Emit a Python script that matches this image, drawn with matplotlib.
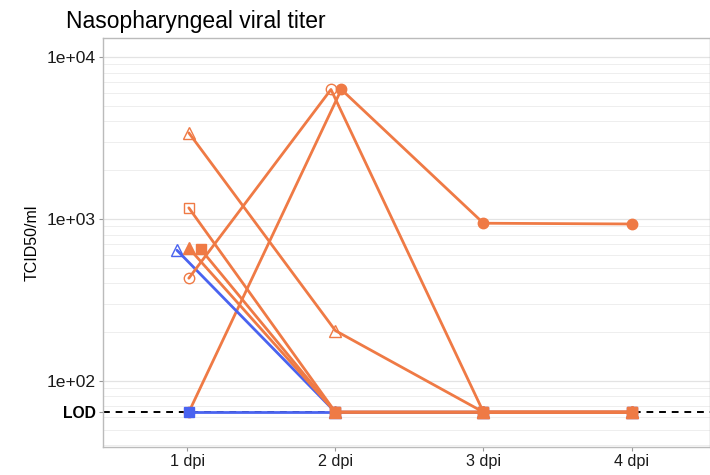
import matplotlib
matplotlib.use("Agg")
import matplotlib.pyplot as plt
import numpy as np
from matplotlib.ticker import FixedLocator, NullFormatter

plt.rcParams['font.family'] = ['Liberation Sans', 'DejaVu Sans']

LOD = 64
days = [1, 2, 3, 4]
day_labels = ["1 dpi", "2 dpi", "3 dpi", "4 dpi"]

# orange group
o_open_tri = [3400, 204, LOD, LOD]
o_open_sq = [1170, LOD, LOD, LOD]
o_open_circ = [430, 6300, LOD, LOD]
o_fill_circ = [LOD, 6300, 940, 930]
o_fill_tri = [660, LOD, LOD, LOD]
o_fill_sq = [650, LOD, LOD, LOD]
# blue group
b_open_tri = [640, LOD, LOD, LOD]
b_fill_sq = [LOD, LOD, LOD, LOD]

ORANGE = "#EF7A45"
BLUE = "#4A63F0"

# drawing order + small horizontal dodge per subject (style)
series = [
    (o_fill_circ, ORANGE, 'o', True, [0.01, 0.04, 0, 0]),
    (b_open_tri, BLUE, '^', False, [-0.07, 0, 0, 0]),
    (b_fill_sq, BLUE, 's', True, [0.01, 0, 0, 0]),
    (o_open_tri, ORANGE, '^', False, [0.01, 0, 0, 0]),
    (o_open_sq, ORANGE, 's', False, [0.01, 0, 0, 0]),
    (o_open_circ, ORANGE, 'o', False, [0.01, -0.03, 0, 0]),
    (o_fill_tri, ORANGE, '^', True, [0.01, 0, 0, 0]),
    (o_fill_sq, ORANGE, 's', True, [0.09, 0, 0, 0]),
]
msize = {'^': 8.5, 'o': 7.5, 's': 7}

fig = plt.figure(figsize=(7.1, 4.75), dpi=100)
ax = fig.add_axes([0.145, 0.059, 0.855, 0.861])
ax.set_yscale('log')
ax.set_ylim(39, 13100)
ax.set_xlim(0.43, 4.53)

# grid
major = [100, 1000, 10000]
minor = [m * 10 ** e for e in range(1, 5) for m in range(2, 10)]
for v in minor:
    ax.axhline(v, color="#EBEBEB", lw=0.6, zorder=0)
for v in major:
    ax.axhline(v, color="#E3E3E3", lw=0.9, zorder=0)

ax.axhline(LOD, color="black", lw=1.4, ls=(0, (3.5, 3)), zorder=1)

z = 2
for vals, col, mk, filled, off in series:
    xs = [d + o for d, o in zip(days, off)]
    ax.plot(xs, vals, color=col, lw=2.0, zorder=z, solid_capstyle='round')
    ax.plot(xs, vals, ls='none', marker=mk, markersize=msize[mk],
            markerfacecolor=col if filled else 'none', markeredgecolor=col,
            markeredgewidth=1.0, zorder=z + 0.5)
    z += 1

ax.yaxis.set_major_locator(FixedLocator([LOD, 100, 1000, 10000]))
ax.yaxis.set_minor_locator(FixedLocator([]))
ax.yaxis.set_minor_formatter(NullFormatter())
ax.set_yticklabels(["LOD", "1e+02", "1e+03", "1e+04"])
ax.set_xticks(days)
ax.set_xticklabels(day_labels)
ax.tick_params(axis='both', length=3, width=0.8, color="#999999", pad=2)
ax.tick_params(axis='x', labelsize=11.6)
ax.tick_params(axis='y', labelsize=12.6)
for lab in ax.get_yticklabels():
    lab.set_color("#1a1a1a")
    if lab.get_text() == "LOD":
        lab.set_fontweight('bold')
        lab.set_fontsize(11.3)
        lab.set_color("black")
for lab in ax.get_xticklabels():
    lab.set_color("#1a1a1a")

for s in ax.spines.values():
    s.set_color("#BBBBBB")
    s.set_linewidth(1.0)

ax.set_ylabel("TCID50/ml", fontsize=11.5, labelpad=5)
ax.set_title("Nasopharyngeal viral titer", loc='left', fontsize=16.5, pad=7,
             x=-0.061)

fig.savefig("out.png", dpi=100)
